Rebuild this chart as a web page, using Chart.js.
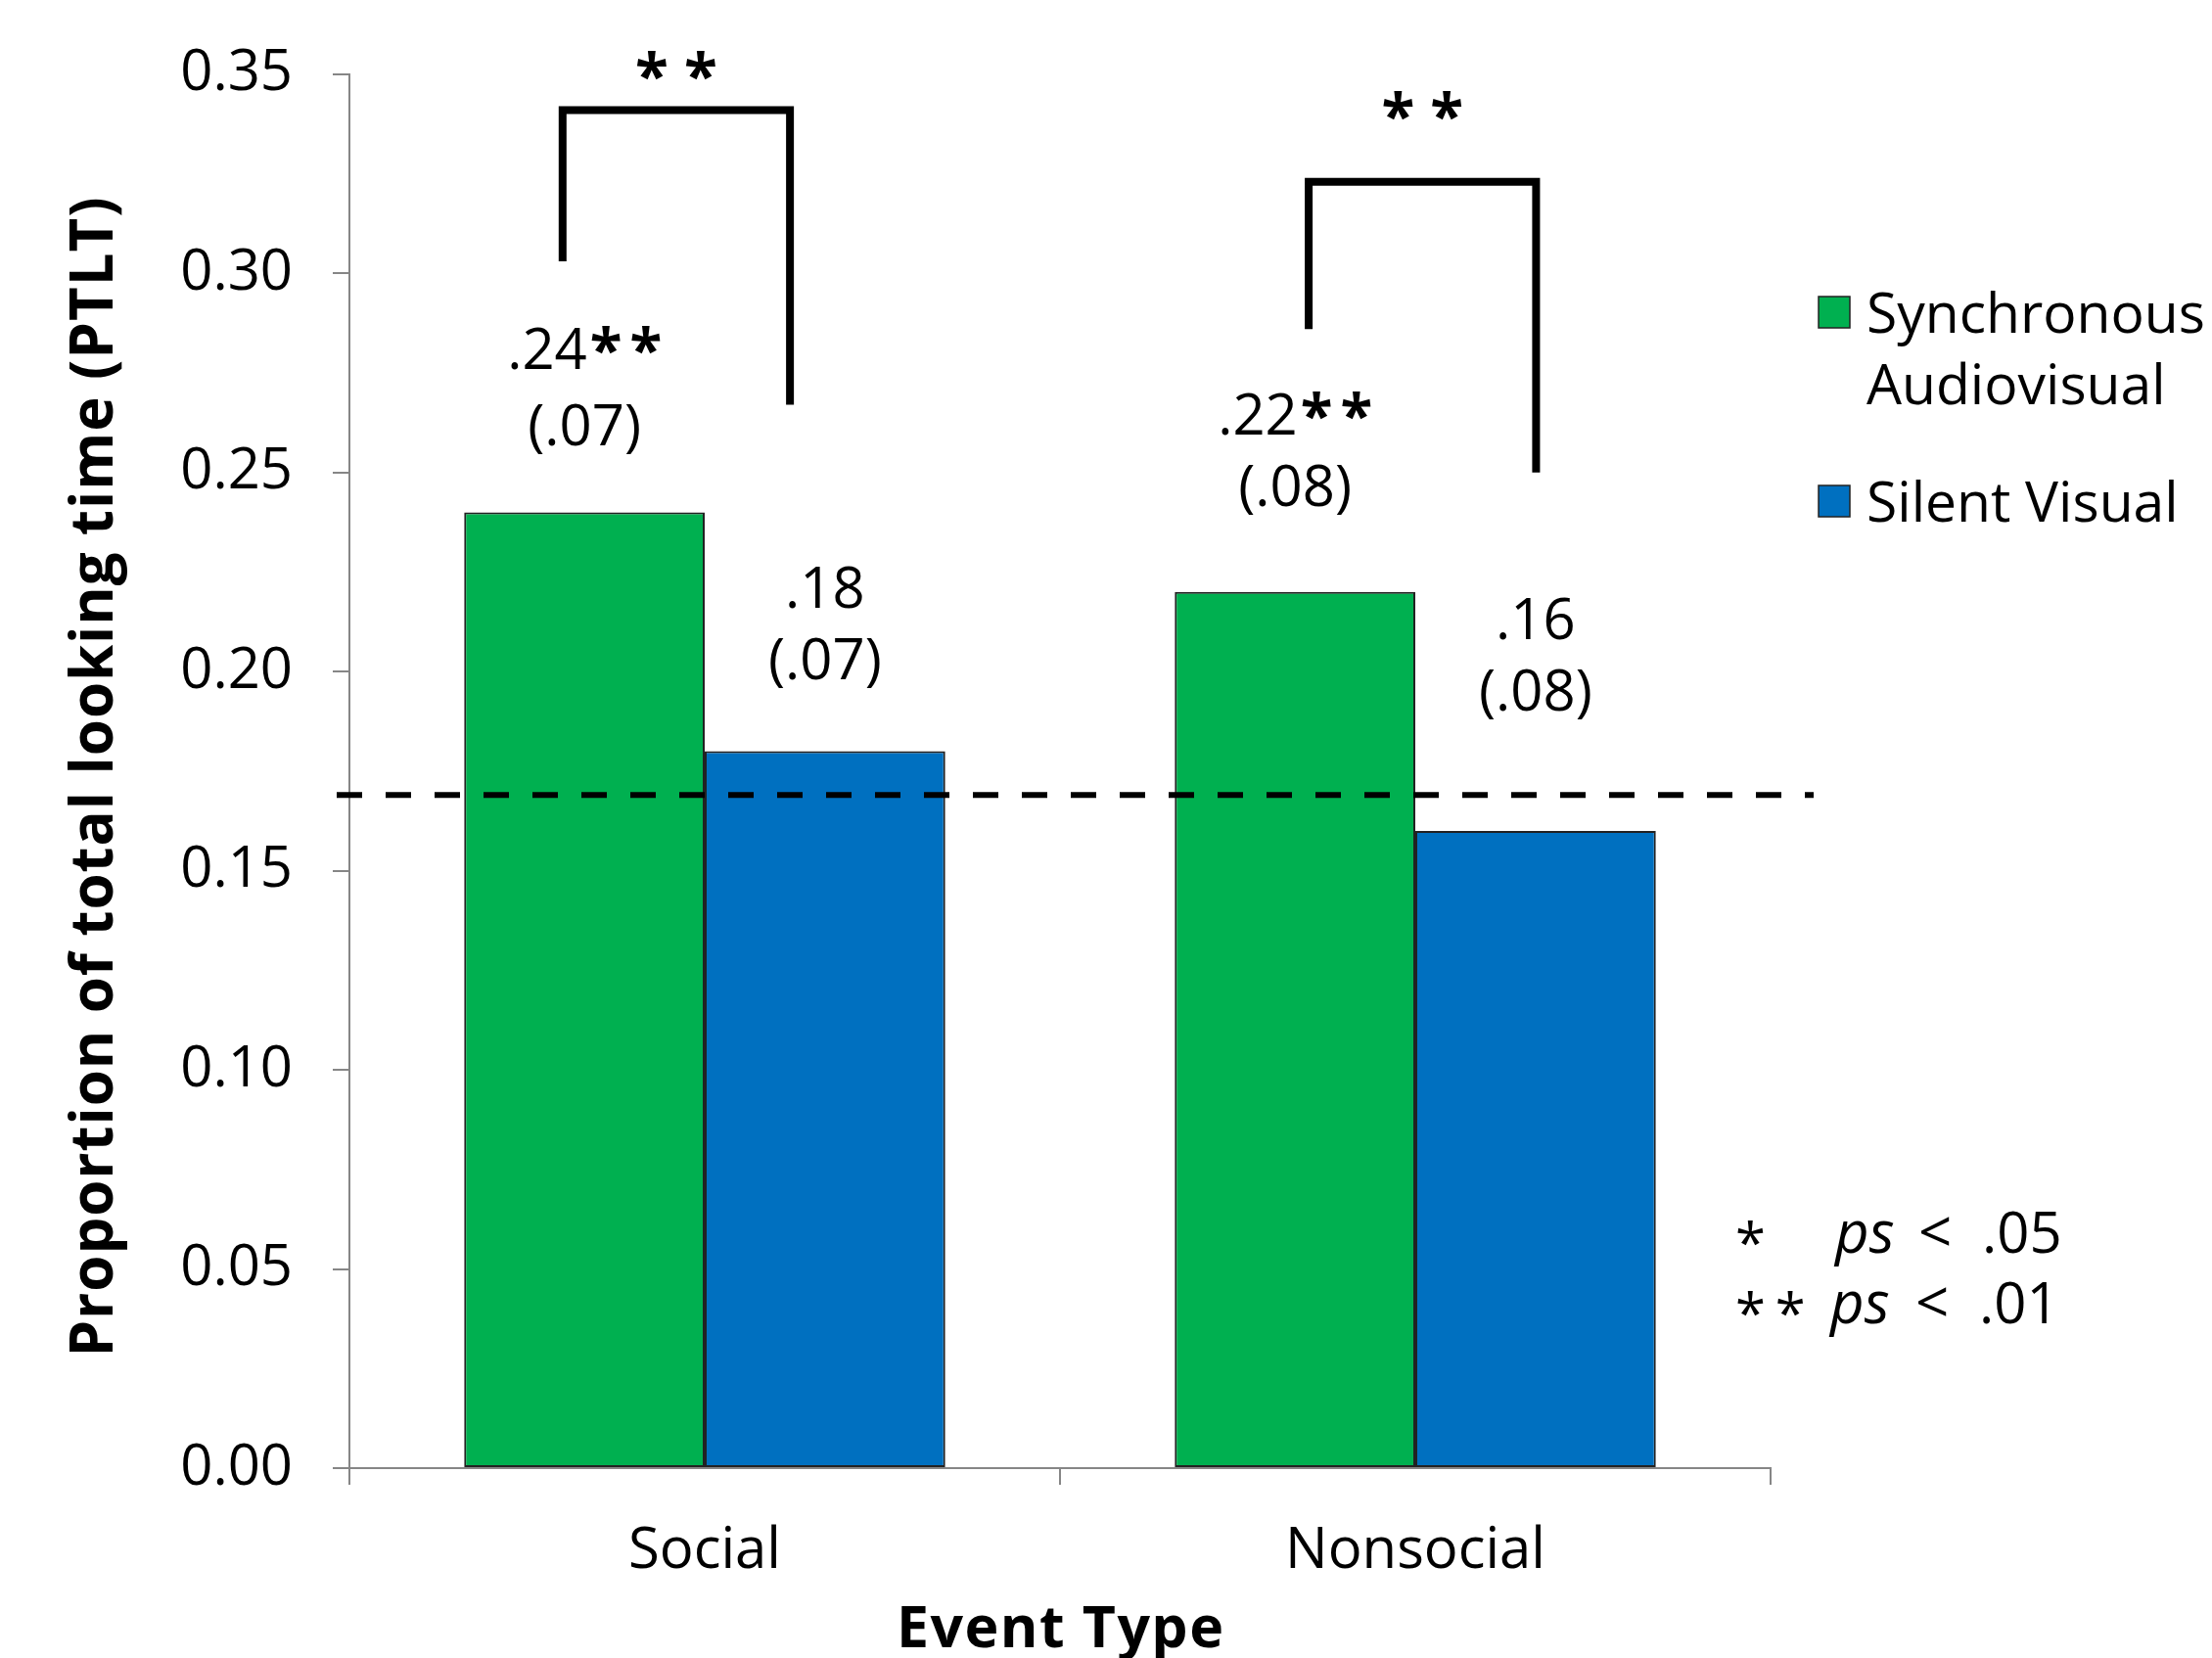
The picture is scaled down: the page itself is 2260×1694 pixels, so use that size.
<!DOCTYPE html>
<html>
<head>
<meta charset="utf-8">
<script src="https://cdn.jsdelivr.net/npm/chart.js@4.4.1/dist/chart.umd.min.js"></script>
<style>
  html, body { margin: 0; padding: 0; background: #fff; }
  canvas { display: block; }
</style>
</head>
<body>
<canvas id="ptltChart" width="2260" height="1694"></canvas>
<script>
// data
const categories = ['Social', 'Nonsocial'];
const seriesNames = ['Synchronous Audiovisual', 'Silent Visual'];
const syncValues = [0.24, 0.22];
const silentValues = [0.18, 0.16];
const syncMeanText = ['.24', '.22'];
const syncStars = ['**', '**'];
const syncSdText = ['(.07)', '(.08)'];
const silentMeanText = ['.18', '.16'];
const silentStars = ['', ''];
const silentSdText = ['(.07)', '(.08)'];
const chanceLevel = 0.169;
const yMin = 0, yMax = 0.35, yStep = 0.05;
const yTitle = 'Proportion of total looking time (PTLT)';
const xTitle = 'Event Type';

// bracket ends, in category-index units (x) and axis units (y)
const brackets = [
    { cat: 0, x0: -0.20, x1: 0.12, yLeft: 0.303, yTop: 0.341, yRight: 0.267, starLift: 47 },
    { cat: 1, x0: -0.15, x1: 0.17, yLeft: 0.286, yTop: 0.323, yRight: 0.250, starLift: 80 }
];
// how far above each bar top the two label lines sit (px)
const labelLift = [
    [[169, 91], [184, 111]],
    [[170, 97], [219, 146]]
];

const FONT = "'Open Sans', 'DejaVu Sans', sans-serif";
const GREEN = '#00B050';
const BLUE = '#0070C0';
const AXIS = '#868686';

// draw text so that it spans exactly `len` pixels
function spreadText(ctx, text, x, y, len) {
    ctx.letterSpacing = '0px';
    const w = ctx.measureText(text).width;
    const sp = (len - w) / (text.length - 1);
    ctx.letterSpacing = sp + 'px';
    ctx.textAlign = 'left';
    ctx.fillText(text, x - len / 2, y);
    ctx.letterSpacing = '0px';
}

const annotate = {
    id: 'annotate',
    afterDatasetsDraw(chart) {
        const { ctx, chartArea, scales: { x, y } } = chart;

        // chance level
        ctx.save();
        ctx.setLineDash([26, 24]);
        ctx.lineWidth = 6;
        ctx.strokeStyle = '#000';
        const yc = y.getPixelForValue(chanceLevel);
        ctx.beginPath();
        ctx.moveTo(chartArea.left - 13, yc);
        ctx.lineTo(chartArea.right + 44, yc);
        ctx.stroke();
        ctx.restore();

        // mean / sd labels over the bars
        const texts = [[syncMeanText, syncStars, syncSdText], [silentMeanText, silentStars, silentSdText]];
        ctx.save();
        ctx.fillStyle = '#000';
        ctx.textBaseline = 'alphabetic';
        chart.data.datasets.forEach((ds, di) => {
            chart.getDatasetMeta(di).data.forEach((bar, i) => {
                const [meanLift, sdLift] = labelLift[di][i];
                const mean = texts[di][0][i], stars = texts[di][1][i];
                const by = bar.y - meanLift + 23;
                ctx.font = `58px ${FONT}`;
                const wm = ctx.measureText(mean).width;
                ctx.font = `bold 60px ${FONT}`;
                ctx.letterSpacing = '8px';
                const ws = stars ? ctx.measureText(stars).width - 8 : 0;
                ctx.letterSpacing = '0px';
                const start = bar.x - (wm + (stars ? ws + 3 : 0)) / 2;
                ctx.textAlign = 'left';
                ctx.font = `58px ${FONT}`;
                ctx.fillText(mean, start, by);
                if (stars) {
                    ctx.font = `bold 60px ${FONT}`;
                    ctx.letterSpacing = '8px';
                    ctx.fillText(stars, start + wm + 3, by + 2);
                    ctx.letterSpacing = '0px';
                }
                ctx.font = `58px ${FONT}`;
                ctx.textAlign = 'center';
                ctx.fillText(texts[di][2][i], bar.x, bar.y - sdLift + 23);
            });
        });
        ctx.restore();

        // significance brackets
        ctx.save();
        ctx.lineWidth = 8;
        ctx.strokeStyle = '#000';
        ctx.lineJoin = 'miter';
        brackets.forEach(b => {
            const xl = x.getPixelForValue(b.cat + b.x0);
            const xr = x.getPixelForValue(b.cat + b.x1);
            const yt = y.getPixelForValue(b.yTop);
            ctx.beginPath();
            ctx.moveTo(xl, y.getPixelForValue(b.yLeft));
            ctx.lineTo(xl, yt);
            ctx.lineTo(xr, yt);
            ctx.lineTo(xr, y.getPixelForValue(b.yRight));
            ctx.stroke();
            ctx.fillStyle = '#000';
            ctx.font = `bold 62px ${FONT}`;
            ctx.textAlign = 'center';
            ctx.fillText('* *', (xl + xr) / 2, yt - b.starLift + 35);
        });
        ctx.restore();

        // legend
        ctx.save();
        const legendX = chartArea.right + 49;
        const rows = [
            { color: GREEN, lines: ['Synchronous', 'Audiovisual'], y: 320 },
            { color: BLUE, lines: ['Silent Visual'], y: 513 }
        ];
        ctx.font = `57px ${FONT}`;
        ctx.textAlign = 'left';
        rows.forEach(r => {
            ctx.fillStyle = r.color;
            ctx.fillRect(legendX, r.y - 17, 32, 32);
            ctx.strokeStyle = '#222';
            ctx.lineWidth = 1.5;
            ctx.strokeRect(legendX, r.y - 17, 32, 32);
            ctx.fillStyle = '#000';
            r.lines.forEach((t, k) => ctx.fillText(t, legendX + 49, r.y + 20 + k * 73));
        });

        // p-value key
        const keyRows = [
            { star: '*', p: '.05', base: 1280, xs: [1773, 1875, 1960, 2025] },
            { star: '**', p: '.01', base: 1352, xs: [1773, 1870, 1957, 2022] }
        ];
        keyRows.forEach(k => {
            ctx.font = `56px ${FONT}`;
            ctx.letterSpacing = '10px';
            ctx.fillText(k.star, k.xs[0], k.base + 10);
            ctx.letterSpacing = '0px';
            ctx.font = `italic 60px ${FONT}`;
            ctx.fillText('ps', k.xs[1], k.base);
            ctx.font = `60px ${FONT}`;
            ctx.fillText('<', k.xs[2], k.base);
            ctx.font = `58px ${FONT}`;
            ctx.fillText(k.p, k.xs[3], k.base);
        });

        // axis titles
        ctx.fillStyle = '#000';
        ctx.font = `bold 59px ${FONT}`;
        spreadText(ctx, xTitle, (chartArea.left + chartArea.right) / 2, 1683, 334);
        ctx.translate(115, 794);
        ctx.rotate(-Math.PI / 2);
        ctx.font = `bold 60px ${FONT}`;
        spreadText(ctx, yTitle, 0, 0, 1185);
        ctx.restore();
    }
};

const ctx = document.getElementById('ptltChart');
new Chart(ctx, {
    type: 'bar',
    data: {
        labels: categories,
        datasets: [
            {
                label: seriesNames[0],
                data: syncValues,
                backgroundColor: GREEN,
                borderColor: '#222',
                borderWidth: 2,
                borderSkipped: false
            },
            {
                label: seriesNames[1],
                data: silentValues,
                backgroundColor: BLUE,
                borderColor: '#222',
                borderWidth: 2,
                borderSkipped: false
            }
        ]
    },
    options: {
        responsive: false,
        animation: false,
        devicePixelRatio: 1,
        categoryPercentage: 0.677,
        barPercentage: 1,
        layout: { padding: { left: 30, right: 451, top: 71, bottom: 0 } },
        plugins: {
            legend: { display: false },
            tooltip: { enabled: false }
        },
        scales: {
            x: {
                offset: true,
                grid: {
                    offset: true,
                    drawOnChartArea: false,
                    color: AXIS,
                    lineWidth: 2,
                    tickLength: 17
                },
                border: { color: AXIS, width: 2 },
                ticks: {
                    color: '#000',
                    padding: 34,
                    font: { family: FONT, size: 58 }
                },
                afterFit: s => { s.height = 1694 - 1500; }
            },
            y: {
                min: yMin,
                max: yMax,
                ticks: {
                    stepSize: yStep,
                    color: '#000',
                    padding: 41,
                    font: { family: FONT, size: 58 },
                    callback: v => v.toFixed(2)
                },
                grid: {
                    drawOnChartArea: false,
                    color: AXIS,
                    lineWidth: 2,
                    tickLength: 17
                },
                border: { color: AXIS, width: 2 },
                afterFit: s => { s.width = 357 - 30; }
            }
        }
    },
    plugins: [annotate]
});
</script>
</body>
</html>
